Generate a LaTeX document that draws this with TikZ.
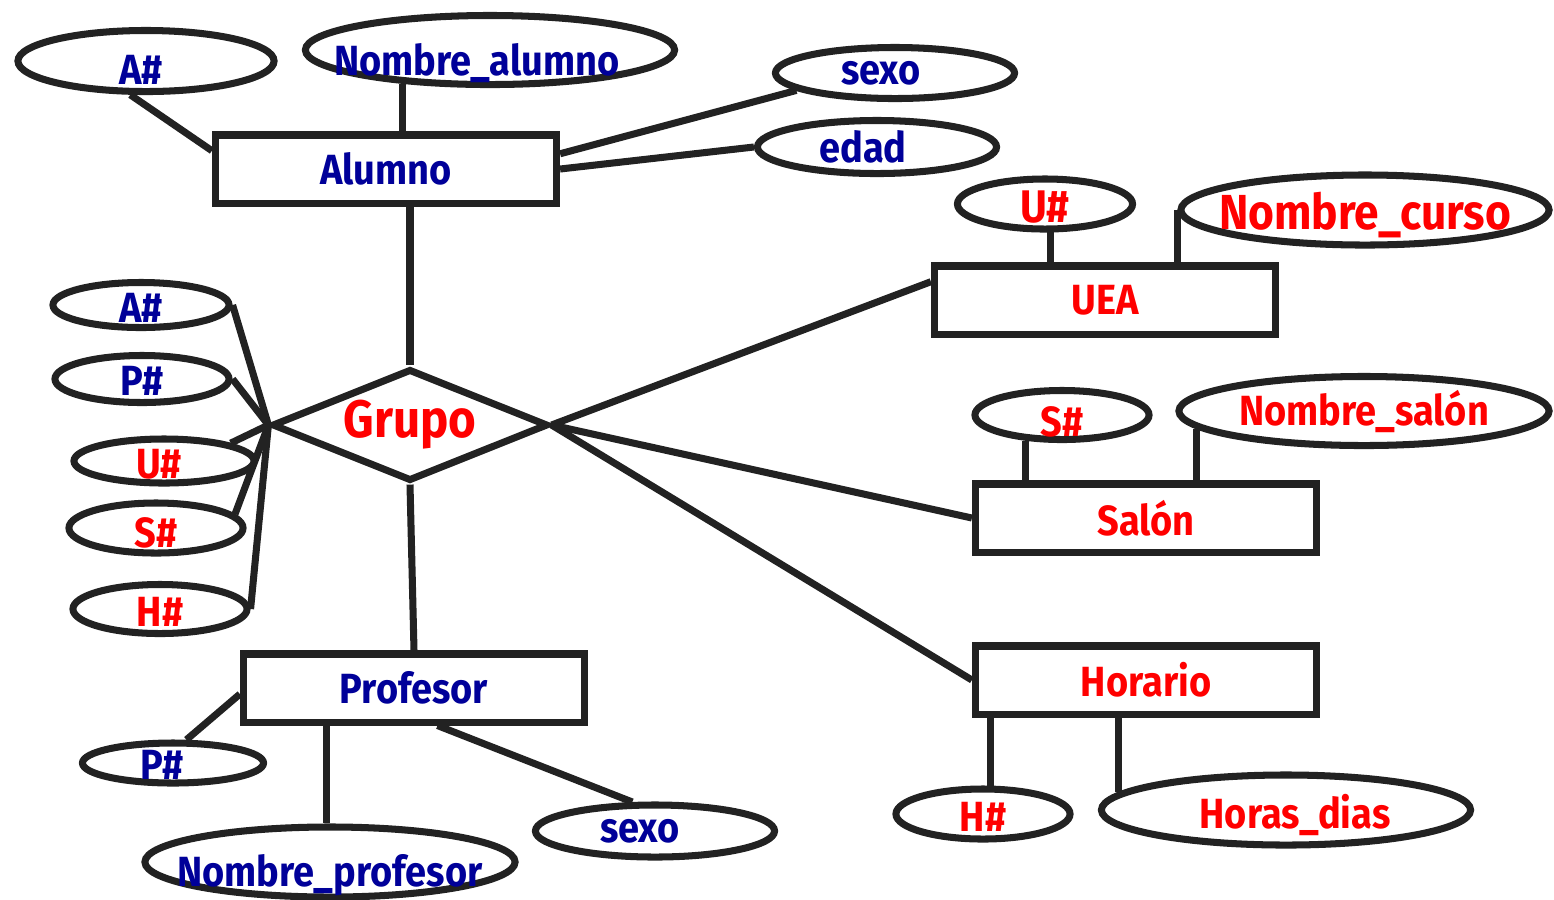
\documentclass[tikz,border=0pt]{standalone}
\usepackage{fontspec}
\setmainfont{Fira Sans}[FakeStretch=0.9]
\usepackage{tikz}
\usetikzlibrary{shapes.geometric}
\definecolor{erblue}{RGB}{0,0,153}
\definecolor{erline}{RGB}{34,34,34}
\tikzstyle{Entity}=[minimum width=3.41cm, minimum height=0.68cm, inner sep=0pt, fill=white, line width=2pt, draw=erline, shape=rectangle, font=\bfseries\fontsize{12}{14}\selectfont]
\tikzstyle{Relation}=[minimum width=2.76cm, minimum height=1.12cm, aspect=2.5, inner sep=0pt, fill=white, line width=2pt, draw=erline, shape=diamond, text=red, font=\bfseries\fontsize{15}{17}\selectfont]
\tikzstyle{Attribute}=[inner sep=0pt, fill=white, line width=2pt, draw=erline, shape=ellipse]
\tikzstyle{BlueText}=[text=erblue, font=\bfseries\fontsize{12}{14}\selectfont]
\tikzstyle{RedText}=[text=red, font=\bfseries\fontsize{12}{14}\selectfont]
\tikzstyle{link}=[line width=2pt, draw=erline]
\pgfdeclarelayer{nodelayer}
\pgfdeclarelayer{edgelayer}
\pgfsetlayers{edgelayer, nodelayer, main}

\begin{document}
\begin{tikzpicture}[x=0.01cm, y=-0.01cm]
	\useasboundingbox (0,0) rectangle (1554,899);
	\begin{pgfonlayer}{nodelayer}
		% entities
		\node [style=Entity, text=erblue] (alumno) at (386,169) {Alumno};
		\node [style=Entity, text=red] (uea) at (1105,300) {UEA};
		\node [style=Entity, text=red] (salon) at (1146,518) {Salón};
		\node [style=Entity, text=red] (horario) at (1146,680) {Horario};
		\node [style=Entity, text=erblue] (profesor) at (414,688) {Profesor};
		% relationship
		\node [style=Relation] (grupo) at (410,425) {Grupo};
		% Alumno attributes
		\node [style=Attribute, minimum width=2.56cm, minimum height=0.61cm, label={[style=BlueText, xshift=-0.05cm, yshift=-0.09cm]center:A\#}] (alumno_id) at (146,61) {};
		\node [style=Attribute, minimum width=3.69cm, minimum height=0.69cm, label={[style=BlueText, xshift=-0.13cm, yshift=-0.13cm]center:Nombre\_alumno}] (alumno_nombre) at (490,50) {};
		\node [style=Attribute, minimum width=2.39cm, minimum height=0.51cm, label={[style=BlueText, xshift=-0.14cm]center:sexo}] (alumno_sexo) at (895,73) {};
		\node [style=Attribute, minimum width=2.39cm, minimum height=0.53cm, label={[style=BlueText, xshift=-0.14cm]center:edad}] (alumno_edad) at (877,147) {};
		% UEA attributes
		\node [style=Attribute, minimum width=1.75cm, minimum height=0.50cm, label={[style=RedText, font=\bfseries\fontsize{13}{15}\selectfont, yshift=-0.03cm]center:U\#}] (uea_id) at (1045,204) {};
		\node [style=Attribute, minimum width=3.68cm, minimum height=0.70cm, label={[style=RedText, font=\bfseries\fontsize{14}{16}\selectfont, yshift=-0.05cm]center:Nombre\_curso}] (uea_nombre) at (1365,210) {};
		% Salon attributes
		\node [style=Attribute, minimum width=1.74cm, minimum height=0.49cm, label={[style=RedText, yshift=-0.07cm]center:S\#}] (salon_id) at (1062,415) {};
		\node [style=Attribute, minimum width=3.70cm, minimum height=0.69cm, label={[style=RedText]center:Nombre\_salón}] (salon_nombre) at (1364,411) {};
		% Horario attributes
		\node [style=Attribute, minimum width=1.74cm, minimum height=0.50cm, label={[style=RedText, yshift=-0.03cm]center:H\#}] (horario_id) at (983,814) {};
		\node [style=Attribute, minimum width=3.69cm, minimum height=0.70cm, label={[style=RedText, xshift=0.09cm, yshift=-0.05cm]center:Horas\_dias}] (horario_horas) at (1286,810) {};
		% Profesor attributes
		\node [style=Attribute, minimum width=1.81cm, minimum height=0.40cm, label={[style=BlueText, xshift=-0.11cm, yshift=-0.02cm]center:P\#}] (prof_id) at (173,763) {};
		\node [style=Attribute, minimum width=3.70cm, minimum height=0.70cm, label={[style=BlueText, yshift=-0.13cm]center:Nombre\_profesor}] (prof_nombre) at (330,862) {};
		\node [style=Attribute, minimum width=2.39cm, minimum height=0.52cm, label={[style=BlueText, xshift=-0.15cm]center:sexo}] (prof_sexo) at (655,831) {};
		% Grupo attributes
		\node [style=Attribute, minimum width=1.76cm, minimum height=0.45cm, label={[style=BlueText, yshift=-0.03cm]center:A\#}] (grupo_a) at (141,305) {};
		\node [style=Attribute, minimum width=1.74cm, minimum height=0.47cm, label={[style=BlueText, yshift=-0.02cm]center:P\#}] (grupo_p) at (142,379) {};
		\node [style=Attribute, minimum width=1.80cm, minimum height=0.44cm, label={[style=RedText, xshift=-0.05cm, yshift=-0.03cm]center:U\#}] (grupo_u) at (164,461) {};
		\node [style=Attribute, minimum width=1.74cm, minimum height=0.50cm, label={[style=RedText, yshift=-0.05cm]center:S\#}] (grupo_s) at (156,528) {};
		\node [style=Attribute, minimum width=1.74cm, minimum height=0.49cm, label={[style=RedText, yshift=-0.03cm]center:H\#}] (grupo_h) at (160,609) {};
	\end{pgfonlayer}
	\begin{pgfonlayer}{edgelayer}
		% Alumno
		\draw [style=link] (alumno_id.-115) -- (alumno.174);
		\draw [style=link] (alumno_nombre.-159) -- (alumno_nombre.-159 |- alumno.north);
		\draw [style=link] (alumno_sexo.-170) -- (alumno.5);
		\draw [style=link] (alumno_edad.west) -- (alumno.east);
		\draw [style=link] (alumno.south -| grupo.north) -- (grupo.north);
		% Grupo to entities
		\draw [style=link] (grupo.east) -- (uea.174);
		\draw [style=link] (grupo.east) -- (salon.west);
		\draw [style=link] (grupo.east) -- (horario.west);
		\draw [style=link] (grupo.south) -- (profesor.north);
		% Grupo attributes
		\draw [style=link] (grupo_a.east) -- (grupo.west);
		\draw [style=link] (grupo_p.east) -- (grupo.west);
		\draw [style=link] (grupo_u.15) -- (grupo.west);
		\draw [style=link] (grupo_s.10) -- (grupo.west);
		\draw [style=link] (grupo_h.east) -- (grupo.west);
		% UEA
		\draw [style=link] (uea_id.-80) -- (uea_id.-80 |- uea.north);
		\draw [style=link] (uea_nombre.west) -- (uea_nombre.west |- uea.north);
		% Salon
		\draw [style=link] (salon_id.-145) -- (salon_id.-145 |- salon.north);
		\draw [style=link] (salon_nombre.-174) -- (salon_nombre.-174 |- salon.north);
		% Horario
		\draw [style=link] (horario.south -| horario_id.75) -- (horario_id.75);
		\draw [style=link] (horario.south -| horario_horas.174) -- (horario_horas.174);
		% Profesor
		\draw [style=link] (prof_id.60) -- (profesor.182);
		\draw [style=link] (profesor.south -| prof_nombre.95) -- (prof_nombre.95);
		\draw [style=link] (profesor.-58) -- (prof_sexo.128);
	\end{pgfonlayer}
\end{tikzpicture}
\end{document}
